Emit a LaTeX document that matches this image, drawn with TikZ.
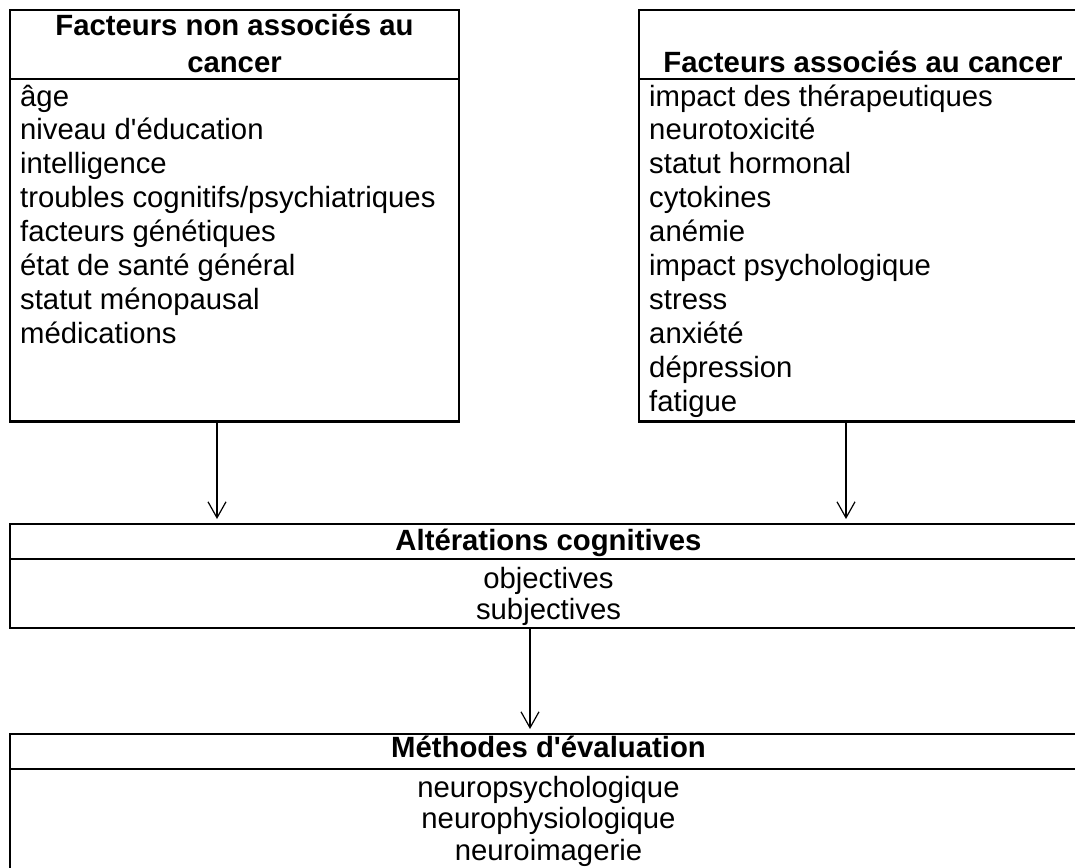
\documentclass[tikz,border=0pt]{standalone}
\usepackage{fontspec}
\setmainfont{Liberation Sans}
\usetikzlibrary{arrows.meta}
\begin{document}
\begin{tikzpicture}[x=1pt,y=-1pt,
  box/.style={draw, line width=2.2pt, rectangle, inner sep=0pt, outer sep=0pt},
  sepline/.style={line width=2.2pt},
  item/.style={anchor=base west, inner sep=0pt, font=\fontsize{29.3}{34}\selectfont},
  citem/.style={anchor=base, inner sep=0pt, font=\fontsize{29.3}{34}\selectfont},
  head/.style={anchor=base, inner sep=0pt, font=\fontsize{29.3}{34}\selectfont\bfseries},
  arr/.style={line width=1.2pt, -{Straight Barb[length=16pt,width=18pt]}, shorten >=5pt}]
\useasboundingbox (0,0) rectangle (1075,867);
\clip (0,0) rectangle (1075,867);

% boxes
\node[box, minimum width=449pt, minimum height=411.5pt] (lbox) at (234.5,215.75) {};
\node[box, minimum width=448pt, minimum height=411.5pt] (rbox) at (863,215.75) {};
\node[box, minimum width=1077pt, minimum height=104pt] (abox) at (548.5,576) {};
\node[box, minimum width=1077pt, minimum height=200pt] (mbox) at (548.5,834) {};

% separators
\coordinate (s1) at (0,78.8);
\coordinate (s2) at (0,559);
\coordinate (s3) at (0,769);
\draw[sepline] (lbox.west |- s1) -- (lbox.east |- s1);
\draw[sepline] (rbox.west |- s1) -- (rbox.east |- s1);
\draw[sepline] (abox.west |- s2) -- (abox.east |- s2);
\draw[sepline] (mbox.west |- s3) -- (mbox.east |- s3);

% left box
\node[head] (lh1) at (234.5,36) {Facteurs non associés au};
\node[head] (lh2) at (234.5,72) {cancer};
\foreach \t [count=\i] in {âge, niveau d\textquotesingle éducation, intelligence, troubles cognitifs/psychiatriques, facteurs génétiques, état de santé général, statut ménopausal, médications}
  \node[item] (li\i) at (20,{106+33.9*(\i-1)}) {\t};

% right box
\node[head] (rh) at (863,72) {Facteurs associés au cancer};
\foreach \t [count=\i] in {impact des thérapeutiques, neurotoxicité, statut hormonal, cytokines, anémie, impact psychologique, stress, anxiété, dépression, fatigue}
  \node[item] (ri\i) at (649,{106+33.9*(\i-1)}) {\t};

% alterations
\node[head] (ah) at (548.5,550) {Altérations cognitives};
\node[citem] (a1) at (548.5,588) {objectives};
\node[citem] (a2) at (548.5,619) {subjectives};

% methodes
\node[head] (mh) at (548.5,757) {Méthodes d\textquotesingle évaluation};
\node[citem] (m1) at (548.5,797) {neuropsychologique};
\node[citem] (m2) at (548.5,828) {neurophysiologique};
\node[citem] (m3) at (548.5,860) {neuroimagerie};

% arrows
\coordinate (aL) at (217,0);
\coordinate (aR) at (846,0);
\coordinate (aM) at (530,0);
\draw[arr] (lbox.south -| aL) -- (abox.north -| aL);
\draw[arr] (rbox.south -| aR) -- (abox.north -| aR);
\draw[arr] (abox.south -| aM) -- (mbox.north -| aM);
\end{tikzpicture}
\end{document}
